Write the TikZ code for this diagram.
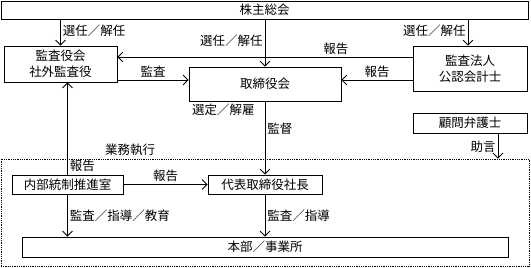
\documentclass[tikz,border=0pt]{standalone}
\usepackage{fontspec}
\setmainfont{Noto Sans CJK JP}
\usetikzlibrary{arrows.meta}
\begin{document}
\begin{tikzpicture}[x=1pt,y=-1pt,
  font=\fontsize{12.5}{16}\selectfont,
  box/.style={draw, line width=0.8pt, inner sep=0pt, align=center},
  arr/.style={draw, line width=0.8pt, -{Straight Barb[length=5pt,width=10pt]}},
  lbl/.style={inner sep=2pt}]
\useasboundingbox (0,0) rectangle (531,268);
\node[box, minimum width=527pt, minimum height=18pt] (top) at (264.5,10) {株主総会};
\node[box, minimum width=113pt, minimum height=36pt] (kansa) at (60.5,64) {監査役会\\社外監査役};
\node[box, minimum width=152pt, minimum height=34pt] (tori) at (265,84) {取締役会};
\node[box, minimum width=114pt, minimum height=45pt] (hojin) at (470,68.5) {監査法人\\公認会計士};
\node[box, minimum width=114pt, minimum height=20pt] (komon) at (470,123) {顧問弁護士};
\node[draw, densely dotted, line width=0.8pt, minimum width=528pt, minimum height=107pt] (dot) at (265,212.5) {};
\node[box, minimum width=111pt, minimum height=19pt] (naibu) at (67.5,184.5) {内部統制推進室};
\node[box, minimum width=114pt, minimum height=19pt] (daihyo) at (265,184.5) {代表取締役社長};
\node[box, minimum width=486pt, minimum height=20pt] (honbu) at (265,247) {本部／事業所};
\node[lbl] (gyomu) at (130,150) {業務執行};

\draw[arr] (top.south -| kansa.north) -- node[lbl, right, pos=0.45] {選任／解任} (kansa.north);
\draw[arr] (top.south -| tori.north) -- node[lbl, left, pos=0.45] {選任／解任} (tori.north);
\draw[arr] ([xshift=-2pt]top.south -| hojin.north) -- node[lbl, left, pos=0.45] {選任／解任} ([xshift=-2pt]hojin.north);
\draw[arr] ([yshift=11.5pt]hojin.west) -- node[lbl, above, pos=0.26] {報告} ([yshift=11.5pt]hojin.west -| kansa.east);
\draw[arr] ([yshift=-16pt]kansa.east) -- node[lbl, above] {監査} ([yshift=-16pt]kansa.east -| tori.west);
\draw[arr] ([yshift=-11.5pt]hojin.west) -- node[lbl, above] {報告} ([yshift=-11.5pt]hojin.west -| tori.east);
\draw[arr] (tori.south) -- node[lbl, pos=0.12, left=8pt] {選定／解雇} node[lbl, pos=0.37, right] {監督} (daihyo.north);
\draw[arr] (naibu.north) -- node[lbl, pos=0.1, right] {報告} (naibu.north |- kansa.south);
\draw[arr] (naibu.east) -- node[lbl, above] {報告} (daihyo.west);
\draw[arr] (naibu.south) -- node[lbl, right] {監査／指導／教育} (naibu.south |- honbu.north);
\draw[arr] (daihyo.south) -- node[lbl, right] {監査／指導} (daihyo.south |- honbu.north);
\draw[arr] ([xshift=28pt]komon.south) -- node[lbl, left, pos=0.55] {助言} ([xshift=28pt]komon.south |- dot.north);
\end{tikzpicture}
\end{document}
